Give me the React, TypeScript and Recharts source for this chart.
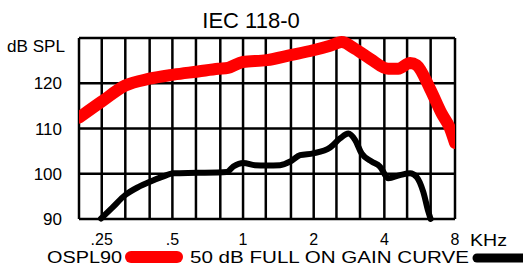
import { LineChart, Line, XAxis, YAxis, CartesianGrid, Legend } from "recharts";

// 1/3 octave grid, kHz
const freqTicks = [0.2, 0.25, 0.315, 0.4, 0.5, 0.63, 0.8, 1, 1.25, 1.6, 2, 2.5, 3.15, 4, 5, 6.3, 8];
const freqLabels: Record<string, string> = { "0.25": ".25", "0.5": ".5", "1": "1", "2": "2", "4": "4", "8": "8" };
const dbTicks = [90, 100, 110, 120, 130];

// OSPL90 (red)
const osplFreq = [0.2, 0.249, 0.315, 0.399, 0.506, 0.643, 0.784, 0.863, 0.997, 1.26, 1.59, 1.99, 2.35, 2.63, 3.0, 3.48, 4.16, 4.59, 5.15, 5.49, 6.26, 7.02, 7.62, 8.0];
const osplDb = [112.4, 115.9, 119.5, 121.0, 121.9, 122.6, 123.2, 123.4, 124.7, 125.1, 126.2, 127.3, 128.3, 129.1, 127.6, 125.4, 123.2, 123.2, 124.5, 124.0, 118.8, 113.3, 110.0, 106.8];

// 50 dB full on gain curve (black)
const gainFreq = [0.248, 0.276, 0.315, 0.359, 0.399, 0.452, 0.506, 0.643, 0.852, 0.909, 1.003, 1.124, 1.26, 1.437, 1.59, 1.75, 1.99, 2.35, 2.59, 2.81, 3.0, 3.2, 3.53, 3.83, 4.16, 4.66, 5.15, 5.49, 5.86, 6.16, 6.3];
const gainDb = [90.1, 92.4, 95.3, 97.1, 98.2, 99.3, 100.1, 100.2, 100.4, 101.6, 102.4, 101.9, 101.8, 101.9, 102.7, 104.1, 104.5, 105.8, 107.8, 108.9, 107.5, 104.5, 102.7, 101.6, 99.0, 99.7, 100.1, 99.3, 96.0, 91.6, 90.0];

const osplData = osplFreq.map((f, i) => ({ f, db: osplDb[i] }));
const gainData = gainFreq.map((f, i) => ({ f, db: gainDb[i] }));

const FONT = "'Liberation Sans', Arial, sans-serif";

function LegendRow() {
  return (
    <svg width={523} height={25} style={{ display: "block", fontFamily: FONT }}>
      <text x={47} y={19} fontSize={16} textLength={75} lengthAdjust="spacingAndGlyphs" fill="#000">
        OSPL90
      </text>
      <line x1={131} y1={13} x2={177} y2={13} stroke="#ff0000" strokeWidth={12} strokeLinecap="round" />
      <text x={190} y={19} fontSize={16} textLength={279} lengthAdjust="spacingAndGlyphs" fill="#000">
        50 dB FULL ON GAIN CURVE
      </text>
      <line x1={477} y1={14} x2={530} y2={14} stroke="#000" strokeWidth={9} strokeLinecap="round" />
    </svg>
  );
}

export default function App() {
  return (
    <div style={{ position: "absolute", left: 0, top: 0, fontFamily: FONT }}>
      <LineChart
        width={523}
        height={269}
        margin={{ top: 38, right: 68, left: 0, bottom: 20 }}
      >
        <CartesianGrid stroke="#000" strokeWidth={2.5} />
        <XAxis
          dataKey="f"
          type="number"
          scale="log"
          domain={[0.2, 8]}
          ticks={freqTicks}
          interval={0}
          allowDataOverflow
          axisLine={false}
          tickLine={false}
          tickSize={0}
          tickMargin={15}
          height={30}
          tick={{ fontSize: 16, fill: "#000" }}
          tickFormatter={(v: number) => freqLabels[String(v)] ?? ""}
        />
        <YAxis
          type="number"
          domain={[90, 130]}
          ticks={dbTicks}
          interval={0}
          width={79}
          axisLine={false}
          tickLine={false}
          tickSize={0}
          tickMargin={17}
          tick={{ fontSize: 17, fill: "#000" }}
          tickFormatter={(v: number) => (v === 130 ? "" : String(v))}
        />
        <Legend
          verticalAlign="middle"
          layout="horizontal"
          wrapperStyle={{ top: 244, left: 0, width: 523, height: 25 }}
          content={() => <LegendRow />}
        />
        <Line
          data={gainData}
          dataKey="db"
          name="50 dB FULL ON GAIN CURVE"
          stroke="#000"
          strokeWidth={6}
          strokeLinecap="round"
          strokeLinejoin="round"
          dot={false}
          type="monotone"
          isAnimationActive={false}
        />
        <Line
          data={osplData}
          dataKey="db"
          name="OSPL90"
          stroke="#ff0000"
          strokeWidth={12}
          strokeLinecap="round"
          strokeLinejoin="round"
          dot={false}
          type="monotone"
          isAnimationActive={false}
        />
        <text x={251} y={28} textAnchor="middle" fontSize={22} fill="#000" fontFamily={FONT}>
          IEC 118-0
        </text>
        <text x={7} y={52} fontSize={16} textLength={58} lengthAdjust="spacingAndGlyphs" fill="#000" fontFamily={FONT}>
          dB SPL
        </text>
        <text x={470} y={246} fontSize={16} textLength={37} lengthAdjust="spacingAndGlyphs" fill="#000" fontFamily={FONT}>
          KHz
        </text>
      </LineChart>
    </div>
  );
}
